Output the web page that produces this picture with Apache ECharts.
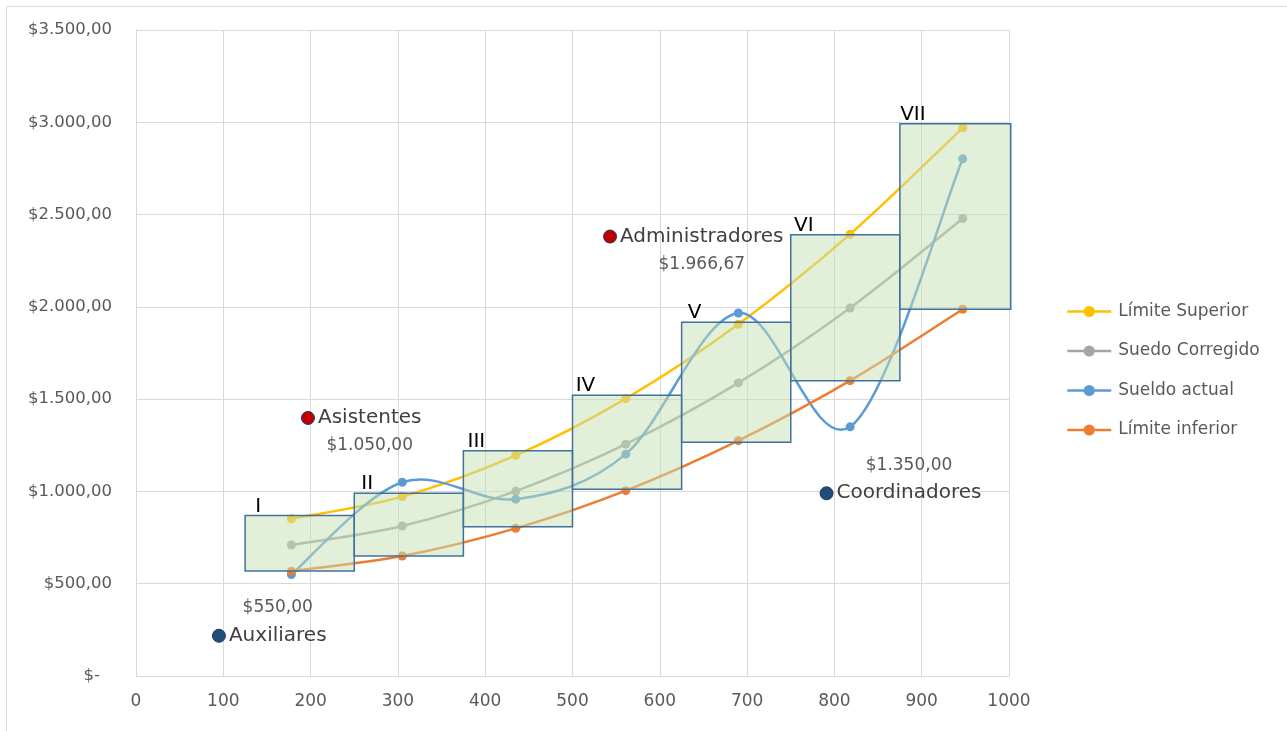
<!DOCTYPE html>
<html><head><meta charset="utf-8">
<script src="https://cdn.jsdelivr.net/npm/echarts@6/dist/echarts.min.js"></script>
<style>html,body{margin:0;padding:0;background:#fff}#c{width:1287px;height:731px}</style>
</head><body><div id="c"></div>
<script>
// ---- data ----
const xPoints = [178, 305, 435, 561, 690, 818, 947];
const limiteSuperior = [852, 972, 1195, 1503, 1906, 2394, 2970];
const sueldoCorregido = [710, 813, 1002, 1256, 1588, 1994, 2479];
const sueldoActual = [550, 1050, 958, 1202, 1966.67, 1350, 2802];
const limiteInferior = [568, 650, 800, 1004, 1275, 1600, 1987];
const seriesNames = ['Límite Superior', 'Suedo Corregido', 'Sueldo actual', 'Límite inferior'];

const rangeLabels = ['I', 'II', 'III', 'IV', 'V', 'VI', 'VII'];
const rangeX0 = [125, 250, 375, 500, 625, 750, 875];
const rangeX1 = [250, 375, 500, 625, 750, 875, 1002];
const rangeYMin = [569, 650, 809, 1012, 1267, 1600, 1987];
const rangeYMax = [869, 990, 1220, 1521, 1917, 2390, 2992];

const groupNames = ['Auxiliares', 'Asistentes', 'Administradores', 'Coordinadores'];
const groupX = [95, 197, 543, 791];
const groupY = [218, 1398, 2381, 990];
const groupValue = [550, 1050, 1966.67, 1350];

// ---- styles ----
const FONT = '"DejaVu Sans", "Noto Sans", sans-serif';
const lineColors = ['#FFC000', '#A5A5A5', '#5B9BD5', '#ED7D31'];
const groupColors = ['#1F4E79', '#C00000', '#C00000', '#1F4E79'];
const valueFirst = [true, false, false, true];
const allSeries = [limiteSuperior, sueldoCorregido, sueldoActual, limiteInferior];

function money(v) {
  if (v === 0) return '$-';
  const parts = v.toFixed(2).split('.');
  return '$' + parts[0].replace(/\B(?=(\d{3})+(?!\d))/g, '.') + ',' + parts[1];
}

// smoothed curves (Catmull-Rom style bezier segments, like a spreadsheet's smoothed line)
const curveSeries = allSeries.map((arr, si) => ({
  type: 'custom',
  z: 2,
  silent: true,
  data: xPoints.slice(0, -1).map((x, j) => [x, arr[j]]),
  renderItem: function (params, api) {
    const i = params.dataIndex;
    const n = xPoints.length;
    const pt = k => api.coord([xPoints[Math.max(0, Math.min(n - 1, k))], arr[Math.max(0, Math.min(n - 1, k))]]);
    const p0 = pt(i - 1), p1 = pt(i), p2 = pt(i + 1), p3 = pt(i + 2);
    const f = 1 / 6;
    return {
      type: 'bezierCurve',
      shape: {
        x1: p1[0], y1: p1[1], x2: p2[0], y2: p2[1],
        cpx1: p1[0] + (p2[0] - p0[0]) * f, cpy1: p1[1] + (p2[1] - p0[1]) * f,
        cpx2: p2[0] - (p3[0] - p1[0]) * f, cpy2: p2[1] - (p3[1] - p1[1]) * f
      },
      style: { stroke: lineColors[si], lineWidth: 2.5, fill: null, lineCap: 'round' }
    };
  }
}));

// markers + legend entries
const lineSeries = allSeries.map((arr, i) => ({
  name: seriesNames[i],
  type: 'line',
  z: 2,
  data: xPoints.map((x, j) => [x, arr[j]]),
  symbol: 'circle',
  symbolSize: 9,
  lineStyle: { width: 2.5, color: lineColors[i], opacity: 0 },
  itemStyle: { color: lineColors[i] }
}));

const boxSeries = {
  type: 'custom',
  z: 3,
  silent: true,
  data: rangeLabels.map((l, i) => [rangeX0[i], rangeX1[i], rangeYMin[i], rangeYMax[i]]),
  renderItem: function (params, api) {
    const p0 = api.coord([api.value(0), api.value(3)]);
    const p1 = api.coord([api.value(1), api.value(2)]);
    return {
      type: 'group',
      children: [
        { type: 'rect', shape: { x: p0[0], y: p0[1], width: p1[0] - p0[0], height: p1[1] - p0[1] },
          style: { fill: 'rgba(197,224,180,0.5)', stroke: '#41719C', lineWidth: 1.5 } },
        { type: 'text', x: p0[0] + 13, y: p0[1] + 1,
          style: { text: rangeLabels[params.dataIndex], fill: '#000', font: '20px ' + FONT, align: 'center', verticalAlign: 'bottom' } }
      ]
    };
  }
};

const groupSeries = {
  type: 'scatter',
  z: 4,
  symbolSize: 13,
  data: groupNames.map((n, i) => ({
    value: [groupX[i], groupY[i]],
    name: n,
    itemStyle: { color: groupColors[i], borderColor: '#1F3864', borderWidth: 1, opacity: 1 },
    label: {
      show: true,
      position: 'right',
      distance: 3,
      offset: [0, valueFirst[i] ? -14 : 14],
      formatter: valueFirst[i]
        ? '{v|' + money(groupValue[i]) + '}\n{n|' + n + '}'
        : '{n|' + n + '}\n{v|' + money(groupValue[i]) + '}',
      rich: {
        n: { fontFamily: FONT, fontSize: 20, color: '#404040', lineHeight: 28, align: 'center' },
        v: { fontFamily: FONT, fontSize: 17, color: '#595959', lineHeight: 28, align: 'center' }
      }
    }
  }))
};

const chart = echarts.init(document.getElementById('c'));
chart.setOption({
  backgroundColor: '#fff',
  animation: false,
  graphic: [{ type: 'rect', shape: { x: 6.5, y: 6.5, width: 1400, height: 800 }, style: { fill: 'none', stroke: '#d9d9d9', lineWidth: 1 }, z: -1 }],
  grid: { left: 136, top: 30, right: 278, bottom: 55, containLabel: false },
  xAxis: {
    type: 'value', min: 0, max: 1000, interval: 100,
    axisLine: { lineStyle: { color: '#d9d9d9' } },
    axisTick: { show: false },
    splitLine: { lineStyle: { color: '#d9d9d9' } },
    axisLabel: { color: '#595959', fontFamily: FONT, fontSize: 17, margin: 17, formatter: v => String(v) }
  },
  yAxis: {
    type: 'value', min: 0, max: 3500, interval: 500,
    axisLine: { show: true, lineStyle: { color: '#d9d9d9' } },
    axisTick: { show: false },
    splitLine: { lineStyle: { color: '#d9d9d9' } },
    axisLabel: { color: '#595959', fontFamily: FONT, fontSize: 16.5, margin: 24,
      formatter: v => v === 0 ? '{z|$-}' : money(v),
      rich: { z: { color: '#595959', fontFamily: FONT, fontSize: 16.5, padding: [0, 12, 0, 0] } } }
  },
  legend: {
    data: seriesNames.map((n, i) => ({ name: n, lineStyle: { color: lineColors[i], width: 2.5, opacity: 1 } })),
    orient: 'vertical',
    left: 1066, top: 303,
    itemWidth: 44, itemHeight: 14, itemGap: 22.5, padding: 0,
    textStyle: { color: '#595959', fontFamily: FONT, fontSize: 17, padding: [0, 0, 0, 2] }
  },
  series: [...curveSeries, ...lineSeries, boxSeries, groupSeries]
});
</script>
</body></html>
